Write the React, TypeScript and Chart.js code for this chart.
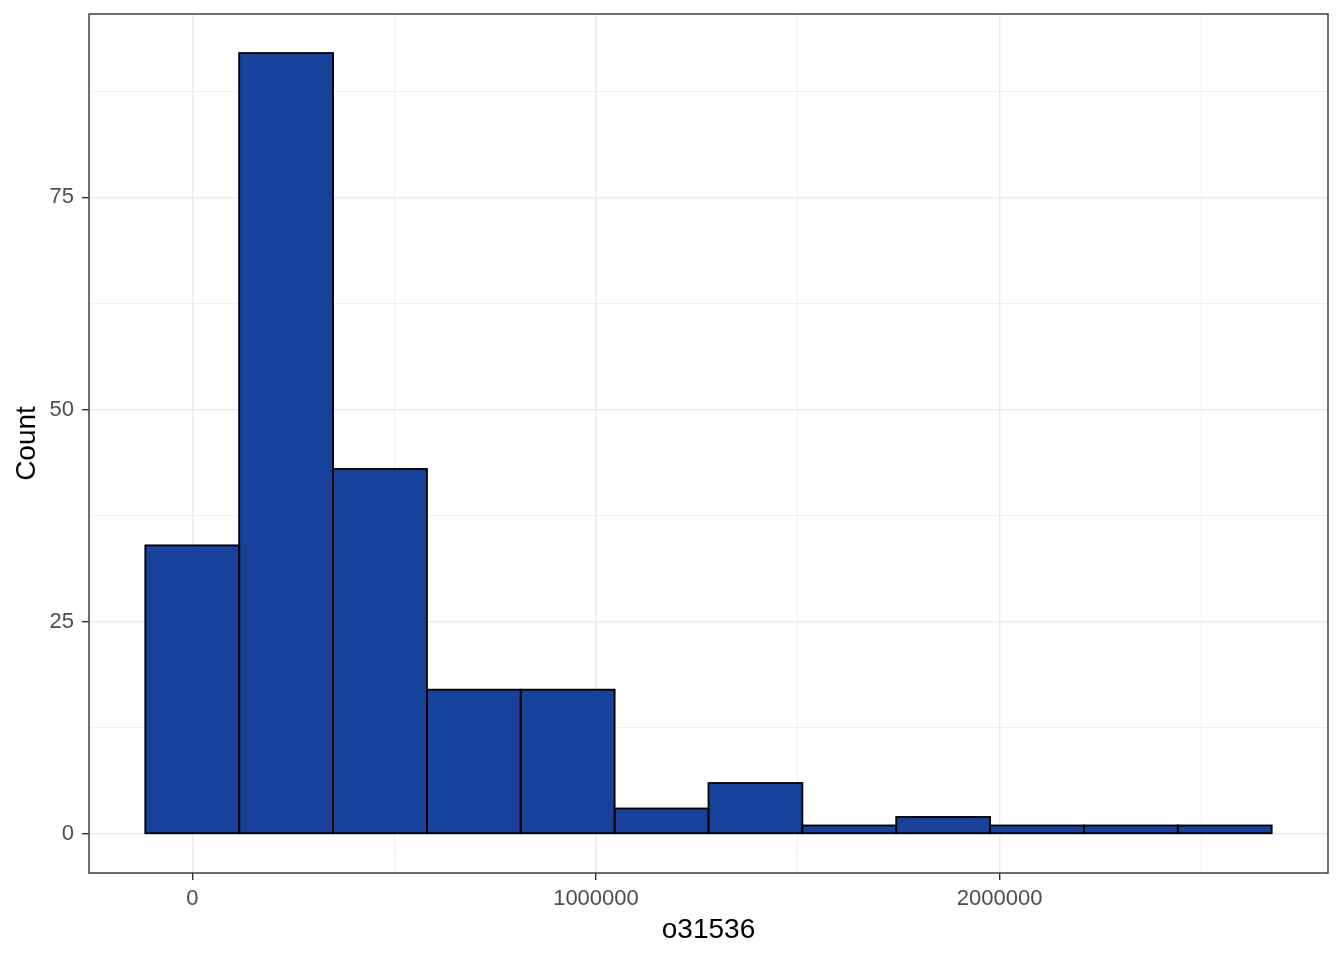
import React, { useEffect, useRef } from "react";
import { Chart, registerables } from "chart.js";

Chart.register(...registerables);

// Histogram bins (centres) and counts
const binCenters = [0, 232500, 465000, 697500, 930000, 1162500, 1395000, 1627500, 1860000, 2092500, 2325000, 2557500];
const counts = [34, 92, 43, 17, 17, 3, 6, 1, 2, 1, 1, 1];
const binWidth = 232500;

const xMajorTicks = [0, 1000000, 2000000];
const xMinorTicks = [500000, 1500000, 2500000];
const yMajorTicks = [0, 25, 50, 75];
const yMinorTicks = [12.5, 37.5, 62.5, 87.5];

const xTitle = "o31536";
const yTitle = "Count";

const FONT = "'Liberation Sans', Arial, sans-serif";

export default function App() {
  const ref = useRef<HTMLCanvasElement | null>(null);

  useEffect(() => {
    document.body.style.margin = "0";
    const canvas = ref.current;
    if (!canvas) return;

    const lo = binCenters[0] - binWidth / 2;
    const hi = binCenters[binCenters.length - 1] + binWidth / 2;
    const xPad = (hi - lo) * 0.05;
    const yMaxData = Math.max(...counts);
    const yPad = yMaxData * 0.05;

    const isMajorX = (v: number) => xMajorTicks.includes(v);
    const isMajorY = (v: number) => yMajorTicks.includes(v);

    const panelPlugin = {
      id: "panelAndOutline",
      afterDatasetsDraw(chart: any) {
        const meta = chart.getDatasetMeta(0);
        const ctx = chart.ctx;
        ctx.save();
        ctx.strokeStyle = "#000000";
        ctx.lineWidth = 1.8;
        meta.data.forEach((el: any) => {
          const { x, y, base, width } = el.getProps(["x", "y", "base", "width"], true);
          ctx.strokeRect(x - width / 2, y, width, base - y);
        });
        ctx.restore();
      },
      afterDraw(chart: any) {
        const { left, right, top, bottom } = chart.chartArea;
        const ctx = chart.ctx;
        ctx.save();
        ctx.strokeStyle = "#333333";
        ctx.lineWidth = 1.4;
        ctx.strokeRect(left, top, right - left, bottom - top);
        ctx.restore();
      },
    };

    const chart = new Chart(canvas, {
      type: "bar",
      data: {
        datasets: [
          {
            data: binCenters.map((c, i) => ({ x: c, y: counts[i] })),
            backgroundColor: "#17419A",
            borderWidth: 0,
            barPercentage: 1,
            categoryPercentage: 1,
          },
        ],
      },
      options: {
        animation: false,
        responsive: false,
        layout: { padding: { top: 14, right: 16, left: 0, bottom: 0 } },
        plugins: {
          legend: { display: false },
          tooltip: { enabled: false },
        },
        scales: {
          x: {
            type: "linear",
            offset: false,
            min: lo - xPad,
            max: hi + xPad,
            afterBuildTicks: (scale: any) => {
              scale.ticks = [...xMajorTicks, ...xMinorTicks]
                .sort((a, b) => a - b)
                .map((v) => ({ value: v }));
            },
            afterFit: (scale: any) => {
              scale.height = 87;
              scale.paddingLeft = 0;
              scale.paddingRight = 0;
            },
            ticks: {
              autoSkip: false,
              maxRotation: 0,
              padding: 6,
              color: "#4D4D4D",
              font: { family: FONT, size: 22 },
              callback: (v: any) => (isMajorX(Number(v)) ? String(v) : ""),
            },
            grid: {
              offset: false,
              color: "#EBEBEB",
              lineWidth: (ctx: any) => (ctx.tick && isMajorX(ctx.tick.value) ? 1.4 : 0.7),
              tickColor: (ctx: any) => (ctx.tick && isMajorX(ctx.tick.value) ? "#333333" : "rgba(0,0,0,0)"),
              tickWidth: 1.4,
              tickLength: 7,
            },
            border: { display: false },
            title: {
              display: true,
              text: xTitle,
              color: "#000000",
              font: { family: FONT, size: 28 },
              padding: { top: 0, bottom: 13 },
            },
          },
          y: {
            type: "linear",
            min: -yPad,
            max: yMaxData + yPad,
            afterBuildTicks: (scale: any) => {
              scale.ticks = [...yMajorTicks, ...yMinorTicks]
                .sort((a, b) => a - b)
                .map((v) => ({ value: v }));
            },
            afterFit: (scale: any) => {
              scale.width = 89;
              scale.paddingTop = 0;
              scale.paddingBottom = 0;
            },
            ticks: {
              autoSkip: false,
              padding: 8,
              color: "#4D4D4D",
              font: { family: FONT, size: 22 },
              callback: (v: any) => (isMajorY(Number(v)) ? String(v) : ""),
            },
            grid: {
              offset: false,
              color: "#EBEBEB",
              lineWidth: (ctx: any) => (ctx.tick && isMajorY(ctx.tick.value) ? 1.4 : 0.7),
              tickColor: (ctx: any) => (ctx.tick && isMajorY(ctx.tick.value) ? "#333333" : "rgba(0,0,0,0)"),
              tickWidth: 1.4,
              tickLength: 7,
            },
            border: { display: false },
            title: {
              display: true,
              text: yTitle,
              color: "#000000",
              font: { family: FONT, size: 28 },
              padding: { top: 10, bottom: 0 },
            },
          },
        },
      },
      plugins: [panelPlugin],
    } as any);

    return () => chart.destroy();
  }, []);

  return (
    <div style={{ width: 1344, height: 960 }}>
      <canvas ref={ref} width={1344} height={960} style={{ display: "block" }} />
    </div>
  );
}
